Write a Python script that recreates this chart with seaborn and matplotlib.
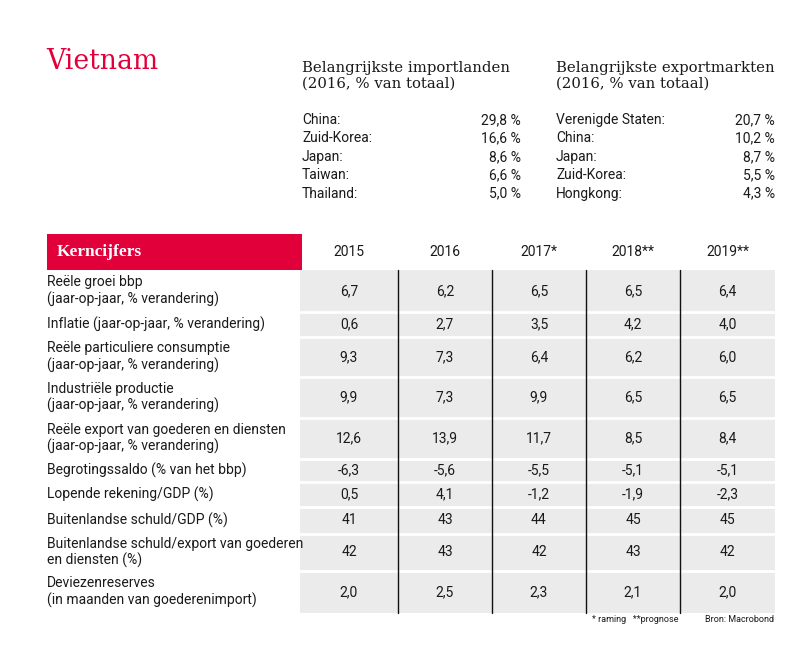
import numpy as np
import matplotlib
matplotlib.use("Agg")
import matplotlib.pyplot as plt
import seaborn as sns
from matplotlib.patches import Rectangle

# Data
country = "Vietnam"
import_countries = ["China:", "Zuid-Korea:", "Japan:", "Taiwan:", "Thailand:"]
import_shares = [29.8, 16.6, 8.6, 6.6, 5.0]
export_markets = ["Verenigde Staten:", "China:", "Japan:", "Zuid-Korea:", "Hongkong:"]
export_shares = [20.7, 10.2, 8.7, 5.5, 4.3]

years = ["2015", "2016", "2017*", "2018**", "2019**"]
indicators = [
    "Reële groei bbp\n(jaar-op-jaar, % verandering)",
    "Inflatie (jaar-op-jaar, % verandering)",
    "Reële particuliere consumptie\n(jaar-op-jaar, % verandering)",
    "Industriële productie\n(jaar-op-jaar, % verandering)",
    "Reële export van goederen en diensten\n(jaar-op-jaar, % verandering)",
    "Begrotingssaldo (% van het bbp)",
    "Lopende rekening/GDP (%)",
    "Buitenlandse schuld/GDP (%)",
    "Buitenlandse schuld/export van goederen\nen diensten (%)",
    "Deviezenreserves\n(in maanden van goederenimport)",
]
values = np.array([
    [6.7, 6.2, 6.5, 6.5, 6.4],
    [0.6, 2.7, 3.5, 4.2, 4.0],
    [9.3, 7.3, 6.4, 6.2, 6.0],
    [9.9, 7.3, 9.9, 6.5, 6.5],
    [12.6, 13.9, 11.7, 8.5, 8.4],
    [-6.3, -5.6, -5.5, -5.1, -5.1],
    [0.5, 4.1, -1.2, -1.9, -2.3],
    [41, 43, 44, 45, 45],
    [42, 43, 42, 43, 42],
    [2.0, 2.5, 2.3, 2.1, 2.0],
])
decimals = [1, 1, 1, 1, 1, 1, 1, 0, 0, 1]


def nl(v, d=1):
    return f"{v:.{d}f}".replace(".", ",")


# Layout (pixels)
RED = "#E2003B"
GRAY = "#EBEBEB"
TXT = "#1a1a1a"
row_edges = [270, 312, 337, 377, 418, 459, 482, 507, 534, 571, 613]
col_edges = [300, 398, 492, 586, 680, 775]

sns.set_theme(style="white")
plt.rcParams["font.family"] = ["Roboto", "DejaVu Sans"]
serif = ["DejaVu Serif"]
FS = 10

fig = plt.figure(figsize=(8.12, 6.47), dpi=100)
ax = fig.add_axes([0, 0, 1, 1])
ax.set_xlim(0, 812)
ax.set_ylim(647, 0)
ax.axis("off")

# Title and top lists
ax.text(46, 69, country, family=serif, fontsize=19.2, color=RED, va="baseline")
ax.text(302, 88, "Belangrijkste importlanden\n(2016, % van totaal)", family=serif,
        fontsize=10.7, color=TXT, va="baseline", linespacing=1.2)
ax.text(556, 88, "Belangrijkste exportmarkten\n(2016, % van totaal)", family=serif,
        fontsize=10.7, color=TXT, va="baseline", linespacing=1.2)
for i, (c, s) in enumerate(zip(import_countries, import_shares)):
    y = 120 + i * 18.4
    ax.text(302, y, c, fontsize=FS, color=TXT, va="center")
    ax.text(521, y, nl(s) + " %", fontsize=FS, color=TXT, va="center", ha="right")
for i, (c, s) in enumerate(zip(export_markets, export_shares)):
    y = 120 + i * 18.4
    ax.text(556, y, c, fontsize=FS, color=TXT, va="center")
    ax.text(775, y, nl(s) + " %", fontsize=FS, color=TXT, va="center", ha="right")

# Header row
ax.add_patch(Rectangle((47, 234), 255, 36, color=RED, lw=0))
ax.text(57, 252, "Kerncijfers", family=["Liberation Serif"], fontsize=12.5,
        fontweight="bold", color="white", va="center")
for j, yr in enumerate(years):
    xc = (col_edges[j] + col_edges[j + 1]) / 2
    ax.text(xc, 252, yr, fontsize=FS, color=TXT, va="center", ha="center")

# Body
ax.add_patch(Rectangle((col_edges[0], row_edges[0]), col_edges[-1] - col_edges[0],
                       row_edges[-1] - row_edges[0], color=GRAY, lw=0))
for y in row_edges[1:-1]:
    ax.plot([col_edges[0], col_edges[-1]], [y, y], color="white", lw=2)
for x in col_edges[1:-1]:
    ax.plot([x, x], [row_edges[0], row_edges[-1]], color="#111111", lw=1)

for i, lab in enumerate(indicators):
    yc = (row_edges[i] + row_edges[i + 1]) / 2
    ax.text(47, yc, lab, fontsize=FS, color=TXT, va="center", linespacing=1.15)
    for j in range(len(years)):
        xc = (col_edges[j] + col_edges[j + 1]) / 2
        ax.text(xc, yc, nl(values[i, j], decimals[i]), fontsize=FS, color=TXT,
                va="center", ha="center")

# Footer
ax.text(592, 620, "* raming   **prognose", fontsize=6.5, color=TXT, va="center")
ax.text(774, 620, "Bron: Macrobond", fontsize=6.5, color=TXT, va="center", ha="right")

fig.savefig("out.png", dpi=100)
